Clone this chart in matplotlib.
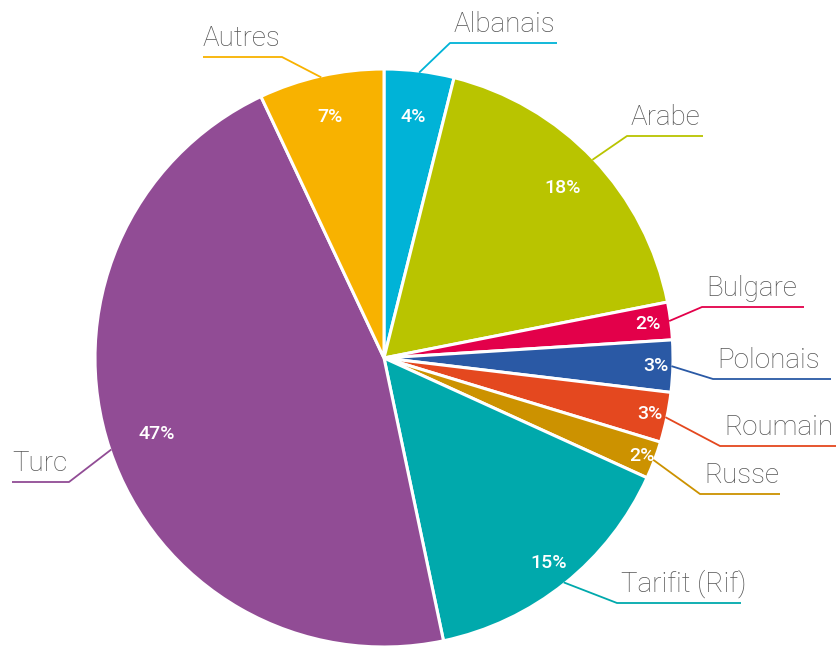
import numpy as np
import matplotlib
matplotlib.use("Agg")
import matplotlib.pyplot as plt

W, H = 836, 646

# data, clockwise from 12 o'clock
languages = ["Albanais", "Arabe", "Bulgare", "Polonais", "Roumain",
             "Russe", "Tarifit (Rif)", "Turc", "Autres"]
shares = [3.9, 18.0, 2.1, 2.9, 2.8, 2.1, 14.9, 46.3, 7.0]
pct_labels = ["4%", "18%", "2%", "3%", "3%", "2%", "15%", "47%", "7%"]
colors = ["#00b3d7", "#b9c400", "#e3004a", "#2a59a5", "#e4481f",
          "#cc9200", "#00a9ac", "#914c95", "#f8b200"]

# layout (pixel coords, y down)
cx, cy, R = 384, 358, 289
pct_r = [0.84, 0.855, 0.92, 0.94, 0.94, 0.955, 0.91, 0.83, 0.855]
# elbow of leader line, end of underline
elbows = [(450, 43), (627, 136), (702, 307), (713, 379), (720, 446),
          (700, 494), (617, 603), (69, 482), (282, 57)]
line_end = [557, 703, 804, 831, 836, 780, 741, 12, 203]

plt.rcParams["font.family"] = ["Roboto", "DejaVu Sans"]

fig = plt.figure(figsize=(W / 100, H / 100), dpi=100)
ax = fig.add_axes([0, 0, 1, 1])

wedges, _ = ax.pie(shares, colors=colors, startangle=90, counterclock=False,
                   center=(cx, H - cy), radius=R,
                   wedgeprops=dict(edgecolor="white", linewidth=2.2))
ax.set_xlim(0, W)
ax.set_ylim(0, H)
ax.set_aspect("equal")
ax.axis("off")

for i, w in enumerate(wedges):
    mid = np.deg2rad((w.theta1 + w.theta2) / 2)
    # percentage inside the slice
    px = cx + pct_r[i] * R * np.cos(mid)
    py = H - cy + pct_r[i] * R * np.sin(mid)
    ax.text(px, py, pct_labels[i], color="white", fontsize=14,
            fontweight="medium", ha="center", va="center")
    # leader line: edge -> elbow -> underline
    sx = cx + 0.995 * R * np.cos(mid)
    sy = H - cy + 0.995 * R * np.sin(mid)
    ex, ey = elbows[i]
    ax.plot([sx, ex, line_end[i]], [sy, H - ey, H - ey],
            color=colors[i], lw=1.3, solid_capstyle="butt")
    lx = ex + 4 if line_end[i] > ex else line_end[i]
    ax.text(lx, H - ey + 5, languages[i], color="#555555", fontsize=20,
            fontweight="light", ha="left", va="bottom")

fig.savefig("out.png", dpi=100)
